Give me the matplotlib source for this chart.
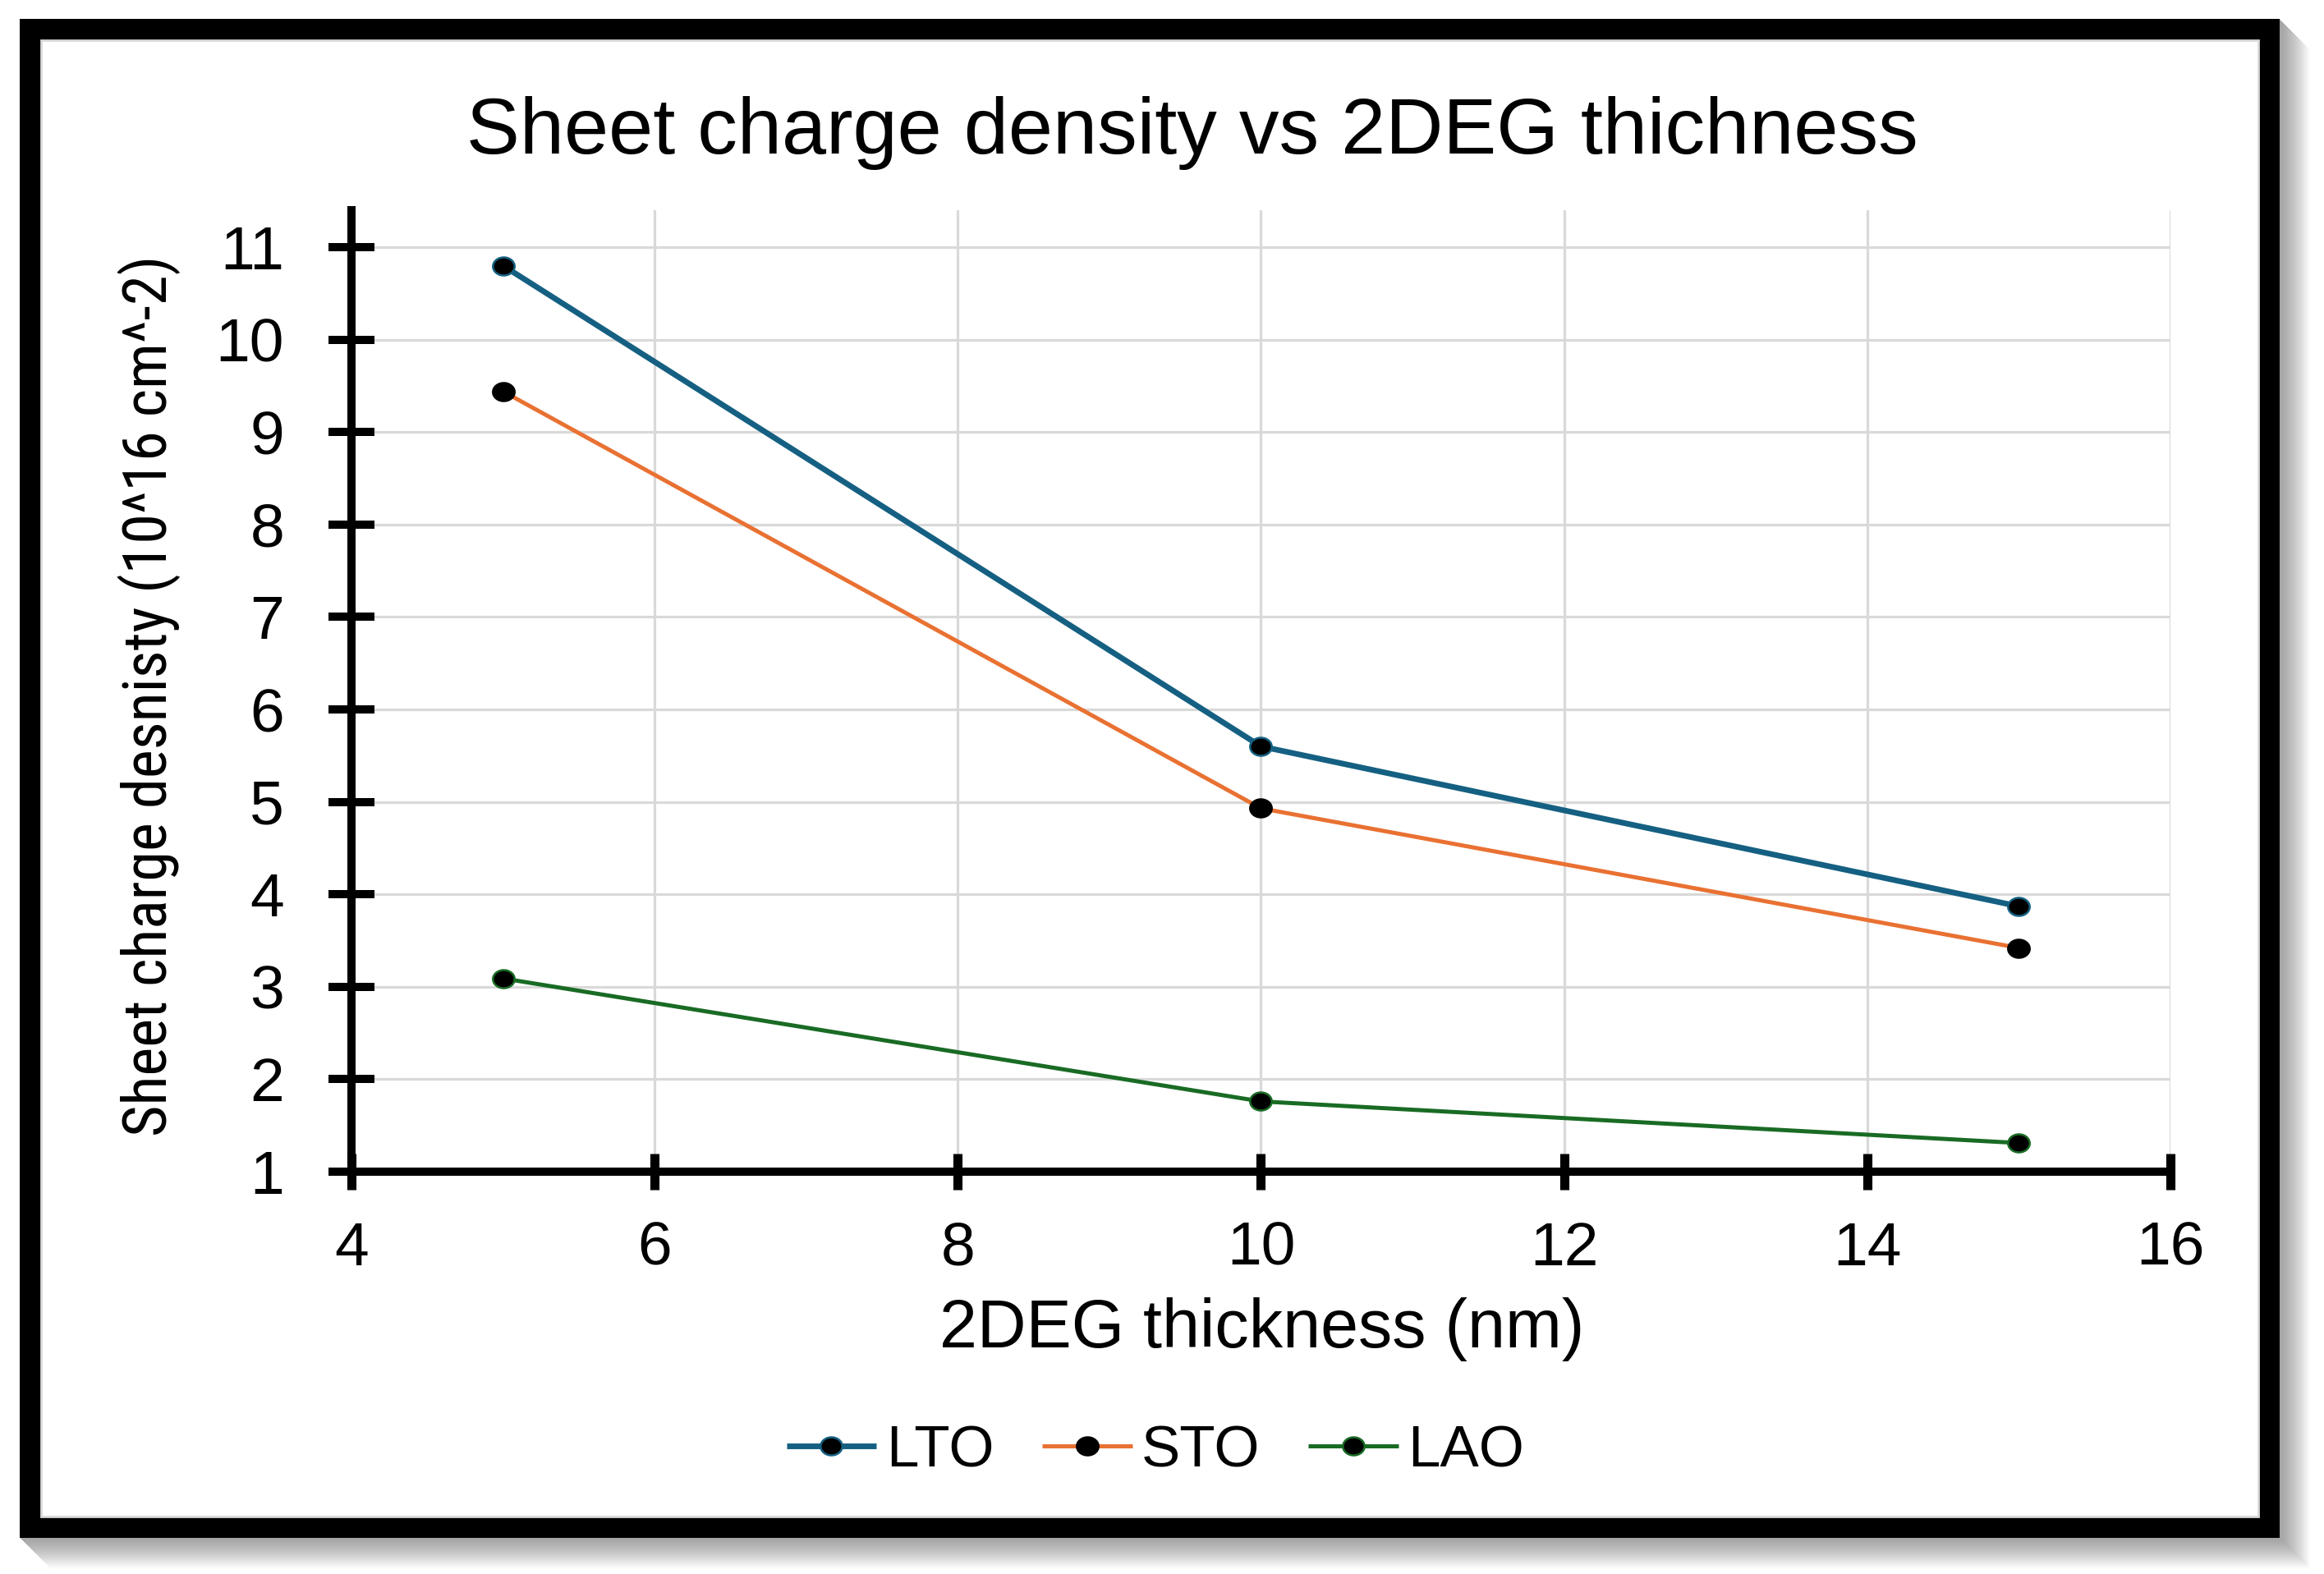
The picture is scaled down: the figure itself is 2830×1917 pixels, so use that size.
import matplotlib
matplotlib.use("Agg")
import matplotlib.pyplot as plt
from matplotlib import font_manager
from matplotlib.patches import Rectangle
from matplotlib.path import Path
import numpy as np

# ---------------- data ----------------
thickness = [5, 10, 15]
lto = [10.80, 5.60, 3.87]
sto = [9.44, 4.93, 3.42]
lao = [3.09, 1.76, 1.31]
series_names = ["LTO", "STO", "LAO"]
xticks = [4, 6, 8, 10, 12, 14, 16]
yticks = [1, 2, 3, 4, 5, 6, 7, 8, 9, 10, 11]

title_text = "Sheet charge density vs 2DEG thichness"
xlabel_text = "2DEG thickness (nm)"
ylabel_text = "Sheet charge desnisty (10^16 cm^-2)"

# ---------------- fonts ----------------
available = {f.name for f in font_manager.fontManager.ttflist}
def pick(*names):
    for n in names:
        if n in available:
            return n
    return "DejaVu Sans"

main_font = pick("Liberation Sans", "Arimo", "DejaVu Sans")
narrow_font = pick("Liberation Sans Narrow", "Arial Narrow", "Roboto Condensed")
plt.rcParams["font.family"] = [main_font, "DejaVu Sans"]

W, H = 2830, 1917
DPI = 100
fig = plt.figure(figsize=(W / DPI, H / DPI), dpi=DPI, facecolor="white")

def fx(px):
    return px / W
def fy(py):
    return 1 - py / H

# ---------------- frame with shadow ----------------
bg = fig.add_axes([0, 0, 1, 1], zorder=0)
bg.set_xlim(0, W)
bg.set_ylim(H, 0)
bg.axis("off")

x0, y0, x1, y1 = 24, 23, 2776, 1873
nsh = 38
for k in range(nsh, 0, -1):
    g = 0.64 + 0.36 * (k / nsh) ** 1.3
    bg.add_patch(Rectangle((x0 + k, y0 + k), x1 - x0, y1 - y0,
                           facecolor=(g, g, g), edgecolor="none", zorder=1))
bg.add_patch(Rectangle((x0, y0), x1 - x0, y1 - y0, facecolor="black",
                       edgecolor="none", zorder=2))
bg.add_patch(Rectangle((50, 49), 2750 - 50, 1847 - 49, facecolor="white",
                       edgecolor="#d9d9d9", linewidth=2.0, zorder=3))

# ---------------- main axes ----------------
left, right = 428, 2643
y_bottom_px = 1427
y_top_px = 256
ax = fig.add_axes([fx(left), fy(y_bottom_px), fx(right) - fx(left),
                   fy(y_top_px) - fy(y_bottom_px)], zorder=1)
ax.set_facecolor("none")

# elliptical marker (image is slightly stretched horizontally)
t = np.linspace(0, 2 * np.pi, 60)
ell = Path(np.column_stack([1.2 * np.cos(t), np.sin(t)]), closed=True)

colors = ["#156082", "#E97132", "#196B24"]
edgecols = ["#156082", "black", "#196B24"]
lws = [5.0, 3.6, 3.6]
for vals, name, c, ec, lw in zip([lto, sto, lao], series_names, colors, edgecols, lws):
    ax.plot(thickness, vals, color=c, lw=lw, marker=ell, markersize=19,
            markerfacecolor="black", markeredgecolor=ec, markeredgewidth=1.8,
            label=name, zorder=3, solid_capstyle="butt")

ax.set_xlim(4, 16)
ax.set_ylim(1, 11.4)
ax.set_xticks(xticks)
ax.set_yticks(yticks)
ax.grid(True, color="#d9d9d9", linewidth=2.3, zorder=0)
ax.set_axisbelow(True)

for s in ["top", "right"]:
    ax.spines[s].set_visible(False)
for s in ["left", "bottom"]:
    ax.spines[s].set_color("black")
    ax.spines[s].set_linewidth(7.2)
    ax.spines[s].set_zorder(4)

ax.tick_params(axis="y", direction="inout", length=40, width=7.2,
               color="black", labelsize=54, pad=39)
ax.tick_params(axis="x", direction="inout", length=32, width=8,
               color="black", labelsize=54, pad=27)
for lab in ax.get_xticklabels() + ax.get_yticklabels():
    lab.set_family([main_font, "DejaVu Sans"])

# ---------------- texts ----------------
fig.text(fx(1452), fy(187), title_text, ha="center", va="baseline",
         fontsize=70, family=[main_font, "DejaVu Sans"], zorder=5)
fig.text(fx(1537), fy(1641), xlabel_text, ha="center", va="baseline",
         fontsize=59.5, family=[main_font, "DejaVu Sans"], zorder=5)
if narrow_font != "DejaVu Sans":
    fig.text(fx(182), fy(847), ylabel_text, ha="center", va="center",
             rotation=90, fontsize=53.5, family=[narrow_font, "DejaVu Sans"], zorder=5)
else:
    fig.text(fx(182), fy(847), ylabel_text, ha="center", va="center",
             rotation=90, fontsize=40, family=["DejaVu Sans"], zorder=5)

# ---------------- legend ----------------
leg = fig.legend(loc="center", bbox_to_anchor=(fx(1407), fy(1768)), ncol=3,
                 frameon=False, handlelength=1.55,
                 handletextpad=0.16, columnspacing=0.83,
                 prop={"family": [main_font, "DejaVu Sans"], "size": 51})
leg.set_zorder(5)

fig.savefig("out.png", dpi=DPI, facecolor="white")
